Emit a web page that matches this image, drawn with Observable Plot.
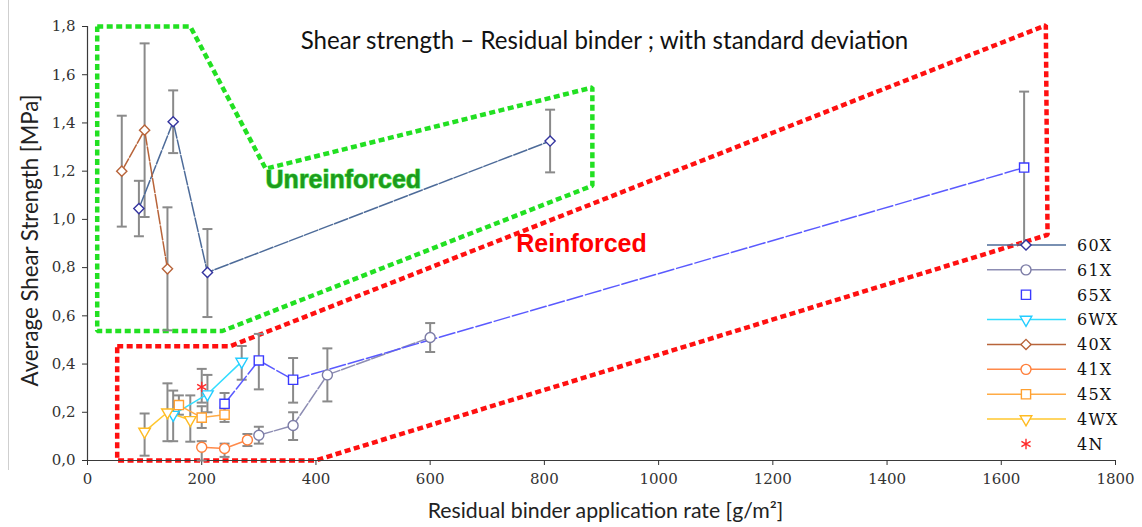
<!DOCTYPE html>
<html><head><meta charset="utf-8">
<script src="https://cdn.jsdelivr.net/npm/d3@7"></script>
<script src="https://cdn.jsdelivr.net/npm/@observablehq/plot@0.6"></script>
<style>
html,body{margin:0;padding:0;background:#fff;}
#wrap{position:relative;width:1142px;height:527px;overflow:hidden;}
#edge{position:absolute;left:8px;top:0;width:0;height:470px;border-left:1px solid #cfcfcf;}
#legend{position:absolute;left:0;top:0;pointer-events:none;}
</style></head><body>
<div id="wrap"><div id="edge"></div></div>
<script>
// ---------- data: [rate g/m², mean MPa, mean - sd, mean + sd] ----------
const seriesNames = ["60X","61X","65X","6WX","40X","41X","45X","4WX","4N"];
const s60X = [[90,1.045,0.93,1.16],[150,1.405,1.275,1.535],[210,0.78,0.595,0.96],[810,1.325,1.195,1.455]];
const s61X = [[300,0.105,0.07,0.14],[360,0.145,0.085,0.20],[420,0.355,0.245,0.465],[600,0.51,0.45,0.57]];
const s65X = [[240,0.235,0.20,0.28],[300,0.415,0.295,0.525],[360,0.335,0.24,0.425],[1640,1.215,0.90,1.53]];
const s6WX = [[150,0.19,0.08,0.29],[210,0.275,0.20,0.355],[270,0.41,0.335,0.475]];
const s40X = [[60,1.20,0.97,1.43],[100,1.37,1.01,1.73],[140,0.795,0.54,1.05]];
const s41X = [[200,0.055,0.0,0.08],[240,0.05,0.015,0.07],[280,0.085,0.06,0.11]];
const s45X = [[160,0.23,0.19,0.27],[200,0.178,0.135,0.225],[240,0.19,0.16,0.22]];
const s4WX = [[100,0.12,0.02,0.195],[140,0.20,0.08,0.32],[180,0.168,0.078,0.27]];
const s4N  = [[200,0.305,0.24,0.38]];
const seriesData = {"60X":s60X,"61X":s61X,"65X":s65X,"6WX":s6WX,"40X":s40X,"41X":s41X,"45X":s45X,"4WX":s4WX,"4N":s4N};

// annotation zones (data coordinates)
const unreinforcedZone = [[17,1.8],[180,1.8],[312,1.21],[884,1.547],[884,1.14],[236,0.537],[17,0.537],[17,1.8]];
const reinforcedZone = [[52,0.474],[250,0.474],[1678,1.805],[1681,0.936],[399,0.0],[52,0.0],[52,0.474]];
const zoneLabels = [
  {label:"Unreinforced", x:448, y:1.162},
  {label:"Reinforced", x:865, y:0.90}
];
const xTicks = [0,200,400,600,800,1000,1200,1400,1600,1800];
const yTicks = [0,0.2,0.4,0.6,0.8,1.0,1.2,1.4,1.6,1.8];
const titleText = "Shear strength \u2013 Residual binder ; with standard deviation";
const xLabel = "Residual binder application rate [g/m\u00b2]";
const yLabel = "Average Shear Strength [MPa]";

// ---------- styles ----------
const triDown = {draw(ctx, size){ const s3=Math.sqrt(3); const y=-Math.sqrt(size/(s3*3)); ctx.moveTo(0,-y*2); ctx.lineTo(-s3*y,y); ctx.lineTo(s3*y,y); ctx.closePath(); }};
const capSym = {draw(ctx, size){ const w=Math.sqrt(size)/2; ctx.moveTo(-w,0); ctx.lineTo(w,0); }};
const style = {
  "60X":{line:"#4d6b99", mark:"#34349f", sym:"diamond2", r:4.6, dash:"14,2", legendLine:true},
  "61X":{line:"#8d8db3", mark:"#7c7ca6", sym:"circle", r:5, dash:"14,2", legendLine:true},
  "65X":{line:"#5a5aff", mark:"#3a3aff", sym:"square", r:5.2, dash:"16,3", legendLine:false},
  "6WX":{line:"#33ddff", mark:"#22ccff", sym:triDown, r:4.3, dash:null, legendLine:true},
  "40X":{line:"#b8643a", mark:"#b8643a", sym:"diamond2", r:4.6, dash:"14,2", legendLine:true},
  "41X":{line:"#ff8a4a", mark:"#ff7f3a", sym:"circle", r:5, dash:null, legendLine:true},
  "45X":{line:"#ffab45", mark:"#ffa030", sym:"square", r:5.2, dash:null, legendLine:true},
  "4WX":{line:"#ffc72e", mark:"#ffbb22", sym:triDown, r:4.3, dash:null, legendLine:true},
  "4N": {line:"#ff2a2a", mark:"#ff2a2a", sym:"asterisk", r:5, dash:null, legendLine:false}
};

const rows = seriesNames.flatMap(n => seriesData[n].map(([x,y,lo,hi]) => ({series:n, x, y, lo, hi})));
const zoneRows = (z) => z.map(([x,y]) => ({x,y}));

const W = 1142, H = 527;
const sansFont = "Lato, 'Open Sans', sans-serif";

const marks = [
  Plot.line(zoneRows(unreinforcedZone), {x:"x", y:"y", stroke:"#22e022", strokeWidth:4.5, strokeDasharray:"6,3.5", strokeLinejoin:"miter", strokeLinecap:"butt"}),
  Plot.line(zoneRows(reinforcedZone), {x:"x", y:"y", stroke:"#ff1010", strokeWidth:4.5, strokeDasharray:"6,3.5", strokeLinejoin:"miter", strokeLinecap:"butt"}),
  Plot.ruleY([0], {stroke:"#3a3a3a", strokeWidth:1.2}),
  Plot.ruleX([0], {stroke:"#3a3a3a", strokeWidth:1.2}),
  Plot.axisX({ticks:xTicks, tickSize:5, tickPadding:8, label:null, tickFormat:d=>String(d)}),
  Plot.axisY({ticks:yTicks, tickSize:5, tickPadding:7, label:null, tickFormat:d=>d.toFixed(1).replace(".", ",")}),
  Plot.ruleX(rows, {x:"x", y1:"lo", y2:"hi", stroke:"#8a8a8a", strokeWidth:2}),
  Plot.dot(rows, {x:"x", y:"lo", symbol:capSym, r:5.64, stroke:"#8a8a8a", strokeWidth:2, fill:"none"}),
  Plot.dot(rows, {x:"x", y:"hi", symbol:capSym, r:5.64, stroke:"#8a8a8a", strokeWidth:2, fill:"none"}),
  ...seriesNames.filter(n => n !== "4N").map(n =>
    Plot.line(rows.filter(d => d.series === n), {x:"x", y:"y", stroke:style[n].line, strokeWidth:1.5, strokeDasharray:style[n].dash || undefined})
  ),
  ...seriesNames.map(n =>
    Plot.dot(rows.filter(d => d.series === n), {x:"x", y:"y", symbol:style[n].sym, r:style[n].r, stroke:style[n].mark, strokeWidth:1.4, fill: n === "4N" ? "none" : "white"})
  ),
  Plot.text(zoneLabels.filter(d=>d.label==="Unreinforced"), {x:"x", y:"y", text:"label", fill:"#1e9a1e", stroke:"#55f055", strokeWidth:1.2, fontWeight:"bold", fontSize:25, fontFamily:"'Liberation Sans', Arial, sans-serif"}),
  Plot.text(zoneLabels.filter(d=>d.label==="Reinforced"), {x:"x", y:"y", text:"label", fill:"#ff0000", fontWeight:"bold", fontSize:25, fontFamily:"'Liberation Sans', Arial, sans-serif"}),
  Plot.text([titleText], {frameAnchor:"top", dx:3, dy:15, textAnchor:"middle", lineAnchor:"middle", fontSize:20, fontFamily:sansFont, fill:"#111"}),
  Plot.text([xLabel], {frameAnchor:"bottom", dx:4, dy:51, textAnchor:"middle", lineAnchor:"middle", fontSize:19, fontFamily:sansFont, fill:"#222"}),
  Plot.text([yLabel], {frameAnchor:"left", dx:-57, dy:-3, rotate:-90, textAnchor:"middle", lineAnchor:"middle", fontSize:19, fontFamily:sansFont, fill:"#222"})
];

const chart = Plot.plot({
  width:W, height:H,
  marginLeft:87, marginRight:27, marginTop:26, marginBottom:67,
  x:{domain:[0,1800]},
  y:{domain:[0,1.8]},
  style:{background:"transparent", fontFamily:"'DejaVu Serif', serif", fontSize:"15px", color:"#333"},
  marks
});
const wrap = document.getElementById("wrap");
wrap.appendChild(chart);

// fit text widths to the reference
function fit(str, target){
  const el = [...chart.querySelectorAll("text")].find(t => t.textContent === str);
  if (!el) return;
  const fs = parseFloat(getComputedStyle(el).fontSize);
  const len = el.getComputedTextLength();
  if (len > 0) el.setAttribute("font-size", (fs * target / len).toFixed(2));
}
fit(titleText, 608);
fit(xLabel, 356);
fit(yLabel, 292);

// ---------- legend ----------
const leg = d3.select(wrap).append("svg").attr("id","legend").attr("width",W).attr("height",H);
const symType = s => s === "diamond2" ? d3.symbolDiamond2 : s === "circle" ? d3.symbolCircle : s === "square" ? d3.symbolSquare : s === "asterisk" ? d3.symbolAsterisk : s;
seriesNames.forEach((n, i) => {
  const st = style[n];
  const cy = 245 + i * 24.87;
  const g = leg.append("g").attr("transform", `translate(0,${cy})`);
  if (st.legendLine) g.append("line").attr("x1",987).attr("x2",1066).attr("y1",0).attr("y2",0).attr("stroke",st.line).attr("stroke-width",1.5);
  g.append("path").attr("transform","translate(1026,0)")
    .attr("d", d3.symbol().type(symType(st.sym)).size(Math.PI*st.r*st.r)())
    .attr("fill", n === "4N" ? "none" : "white").attr("stroke", st.mark).attr("stroke-width",1.4);
  g.append("text").attr("x",1077).attr("y",0).attr("dy","0.36em")
    .attr("font-family","'DejaVu Serif', serif").attr("font-size",16).attr("letter-spacing","1.2px")
    .attr("fill","#111").text(n);
});
</script>
</body></html>
